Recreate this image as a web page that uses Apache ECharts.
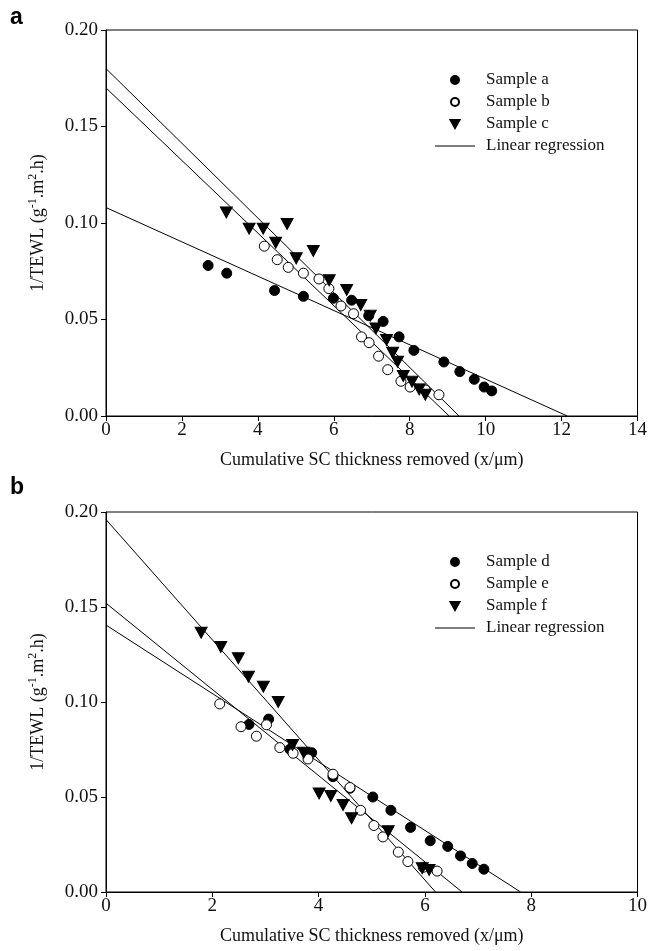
<!DOCTYPE html>
<html>
<head>
<meta charset="utf-8">
<script src="https://cdn.jsdelivr.net/npm/echarts@6/dist/echarts.min.js"></script>
<style>
  html, body { margin: 0; padding: 0; background: #fff; }
  #chart { width: 650px; height: 951px; }
</style>
</head>
<body>
<div id="chart"></div>
<script>
// panel a
const sampleA = [[2.69,0.078],[3.18,0.074],[4.44,0.065],[5.2,0.062],[5.99,0.061],[6.47,0.060],[6.92,0.052],
  [7.3,0.049],[7.72,0.041],[8.11,0.034],[8.9,0.028],[9.32,0.023],[9.7,0.019],[9.96,0.015],[10.16,0.013]];
const sampleB = [[4.17,0.088],[4.51,0.081],[4.8,0.077],[5.2,0.074],[5.61,0.071],[5.87,0.066],[6.19,0.057],
  [6.52,0.053],[6.73,0.041],[6.93,0.038],[7.18,0.031],[7.42,0.024],[7.77,0.018],[8.01,0.015],[8.41,0.0135],[8.77,0.011]];
const sampleC = [[3.17,0.1055],[3.77,0.097],[4.14,0.097],[4.47,0.0898],[4.77,0.0995],[5.01,0.0817],[5.46,0.0855],
  [5.88,0.0703],[6.34,0.0653],[6.71,0.0575],[6.96,0.052],[7.11,0.0454],[7.39,0.0394],[7.55,0.0328],[7.68,0.0281],
  [7.83,0.0207],[8.06,0.0178],[8.25,0.0138],[8.41,0.011]];
// regression: [y-intercept, x-intercept]
const fitA = [0.108, 12.15];
const fitB = [0.170, 9.04];
const fitC = [0.180, 9.30];

// panel b
const sampleD = [[2.69,0.0882],[3.06,0.091],[3.46,0.0751],[3.87,0.0733],[4.27,0.0607],[4.59,0.0546],[5.02,0.050],
  [5.36,0.043],[5.73,0.034],[6.1,0.027],[6.43,0.024],[6.67,0.019],[6.89,0.015],[7.11,0.012]];
const sampleE = [[2.14,0.099],[2.54,0.087],[2.83,0.082],[3.02,0.088],[3.27,0.076],[3.52,0.073],[3.8,0.070],
  [4.27,0.062],[4.59,0.055],[4.79,0.043],[5.04,0.035],[5.21,0.029],[5.5,0.021],[5.68,0.016],[5.97,0.013],[6.23,0.011]];
const sampleF = [[1.79,0.1365],[2.16,0.129],[2.49,0.123],[2.68,0.1133],[2.96,0.108],[3.24,0.100],[3.51,0.0774],
  [3.72,0.0733],[4.01,0.0519],[4.23,0.0505],[4.46,0.0458],[4.62,0.0388],[5.31,0.032],[5.95,0.0125],[6.08,0.0116]];
const fitD = [0.1405, 7.8];
const fitE = [0.152, 6.7];
const fitF = [0.196, 6.2];

const xMaxA = 14, xMaxB = 10;
const yTicks = { min: 0, max: 0.2, interval: 0.05 };

const serif = 'Liberation Serif';
const downTri = 'path://M0,0 L10,0 L5,9 Z';
const lineIcon = 'path://M0,0 L40,0 L40,1 L0,1 Z';

function fitLine(f) { return [[0, f[0]], [f[1], 0]]; }

function xAxisOf(idx, max) {
  return {
    gridIndex: idx, type: 'value', min: 0, max: max, interval: 2,
    name: 'Cumulative SC thickness removed (x/\u03bcm)',
    nameLocation: 'middle', nameGap: 35,
    nameTextStyle: { fontFamily: serif, fontSize: 18, color: '#111' },
    axisLine: { lineStyle: { color: '#000', width: 1 } },
    axisTick: { inside: false, length: 5, lineStyle: { color: '#000' } },
    axisLabel: { fontFamily: serif, fontSize: 19, color: '#111', margin: 5 },
    splitLine: { show: false }
  };
}
function yAxisOf(idx) {
  return {
    gridIndex: idx, type: 'value', min: yTicks.min, max: yTicks.max, interval: yTicks.interval,
    name: '1/TEWL (g{sup|-1}.m{sup|2}.h)',
    nameLocation: 'middle', nameGap: 57, nameRotate: 90,
    nameTextStyle: {
      fontFamily: serif, fontSize: 18, color: '#111', lineHeight: 22,
      rich: { sup: { fontFamily: serif, fontSize: 12, color: '#111', verticalAlign: 'top', lineHeight: 12 } }
    },
    axisLine: { lineStyle: { color: '#000', width: 1 } },
    axisTick: { inside: false, length: 5, lineStyle: { color: '#000' } },
    axisLabel: { fontFamily: serif, fontSize: 19, color: '#111', margin: 8, formatter: v => v.toFixed(2) },
    splitLine: { show: false }
  };
}
function lineSeries(idx, f) {
  return {
    name: 'Linear regression', type: 'line', xAxisIndex: idx, yAxisIndex: idx,
    data: fitLine(f), symbol: 'none', silent: true,
    lineStyle: { color: '#000', width: 1 }, itemStyle: { color: '#000' }, z: 2
  };
}
function scatterSeries(idx, name, data, kind) {
  const s = {
    name: name, type: 'scatter', xAxisIndex: idx, yAxisIndex: idx, data: data, z: 3,
    symbol: 'circle', symbolSize: 10,
    itemStyle: { color: '#000', borderColor: '#000', borderWidth: 1, opacity: 1 }
  };
  if (kind === 'open') s.itemStyle.color = '#fff';
  if (kind === 'tri') { s.symbol = downTri; s.symbolSize = [12, 11]; }
  return s;
}
function legendOf(top, names) {
  return {
    orient: 'vertical', left: 430, top: top, itemWidth: 40, itemHeight: 8, itemGap: 4,
    selectedMode: false,
    data: names.map((n, i) => i === 3 ? { name: n, icon: lineIcon, itemStyle: { color: '#000', borderWidth: 0 } } : n),
    textStyle: { fontFamily: serif, fontSize: 17, color: '#111', lineHeight: 18, padding: [0, 0, 0, 6] }
  };
}

const chart = echarts.init(document.getElementById('chart'), null, { renderer: 'canvas' });
chart.setOption({
  backgroundColor: '#fff',
  animation: false,
  grid: [
    { left: 106, top: 30, width: 533, height: 386, show: true, borderColor: '#000', borderWidth: 1, backgroundColor: 'transparent' },
    { left: 106, top: 512, width: 533, height: 380, show: true, borderColor: '#000', borderWidth: 1, backgroundColor: 'transparent' }
  ],
  xAxis: [xAxisOf(0, xMaxA), xAxisOf(1, xMaxB)],
  yAxis: [yAxisOf(0), yAxisOf(1)],
  legend: [
    legendOf(66, ['Sample a', 'Sample b', 'Sample c', 'Linear regression']),
    legendOf(548, ['Sample d', 'Sample e', 'Sample f', 'Linear regression'])
  ],
  graphic: [
    { type: 'text', left: 10, top: 6, style: { text: 'a', font: 'bold 23px "Liberation Sans", Arial', fill: '#000' } },
    { type: 'text', left: 10, top: 476, style: { text: 'b', font: 'bold 23px "Liberation Sans", Arial', fill: '#000' } }
  ],
  series: [
    lineSeries(0, fitA), lineSeries(0, fitB), lineSeries(0, fitC),
    scatterSeries(0, 'Sample a', sampleA, 'filled'),
    scatterSeries(0, 'Sample b', sampleB, 'open'),
    scatterSeries(0, 'Sample c', sampleC, 'tri'),
    lineSeries(1, fitD), lineSeries(1, fitE), lineSeries(1, fitF),
    scatterSeries(1, 'Sample d', sampleD, 'filled'),
    scatterSeries(1, 'Sample e', sampleE, 'open'),
    scatterSeries(1, 'Sample f', sampleF, 'tri')
  ]
});
</script>
</body>
</html>
